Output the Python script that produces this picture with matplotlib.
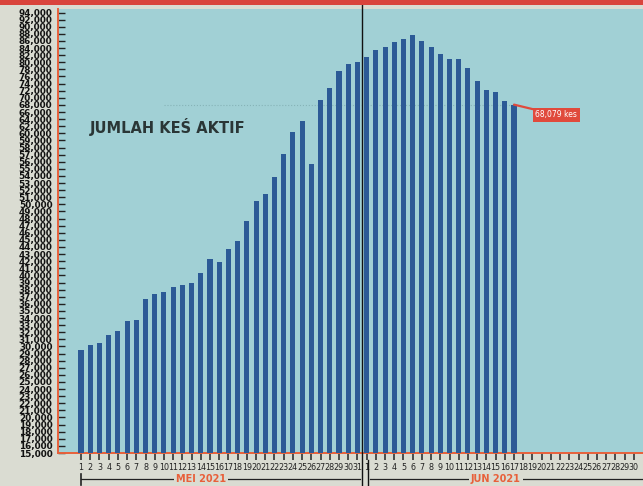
import matplotlib.pyplot as plt
import matplotlib.transforms as mtransforms
from matplotlib.patches import Rectangle
import numpy as np

# Jumlah kes aktif, 1 Mei - 17 Jun 2021
mei_cases = [29560, 30270, 30550, 31580, 32210, 33620, 33700, 36650, 37450, 37680,
             38300, 38660, 38860, 40270, 42240, 41900, 43690, 44860, 47680, 50490,
             51390, 53790, 57110, 60420, 63520, 55660, 69260, 72820, 77600, 79400,
             80120]
jun_cases = [81540, 83440, 84360, 85700, 86540, 87740, 85880, 84200, 82400, 80900,
             80900, 78280, 74700, 72260, 71600, 69080, 68079]
mei_days = list(range(1, 32))
jun_days = list(range(1, 31))
y_ticks = list(range(15000, 60001, 1000)) + list(range(62000, 94001, 2000))
last_label = "68,079 kes"
title = "JUMLAH KEŚ AKTIF"

paper = "#dadcd2"
plot_bg = "#a1d0d5"
bar_blue = "#2c5a96"
axis_red = "#e8603a"
label_red = "#e04a3c"


# the printed y axis is not linear: 1,000 steps up to 60,000 then 2,000 steps
def forward(v):
    v = np.asarray(v, dtype=float)
    return np.where(v <= 60000, (v - 15000) / 1000.0, 45 + (v - 60000) / 2000.0)


def inverse(p):
    p = np.asarray(p, dtype=float)
    return np.where(p <= 45, 15000 + 1000.0 * p, 60000 + 2000.0 * (p - 45))


fig = plt.figure(figsize=(6.43, 4.86), dpi=100, facecolor=paper)
ax = fig.add_axes([58 / 643, 33 / 486, 585 / 643, 444 / 486])
ax.set_facecolor(plot_bg)
ax.set_yscale("function", functions=(forward, inverse))

values = mei_cases + jun_cases
x = np.arange(len(values))
ax.bar(x, np.array(values) - 15000, bottom=15000, width=0.55, color=bar_blue, zorder=3)

ax.set_xlim(-2.5, 61.0)
ax.set_ylim(15000, 95000)

# y axis
ax.set_yticks(y_ticks)
ax.set_yticklabels([f"{v:,}" for v in y_ticks], fontsize=6.4, fontweight="bold", color="#111111")
ax.tick_params(axis="y", direction="in", length=5, width=1, color="#222222", pad=4)
ax.yaxis.set_minor_locator(plt.NullLocator())

# x axis: days of May then June
tick_pos = np.arange(len(mei_days) + len(jun_days))
ax.set_xticks(tick_pos)
ax.set_xticklabels([str(d) for d in mei_days + jun_days], fontsize=5.8,
                   family=["Liberation Sans Narrow", "DejaVu Sans"], color="#222222")
ax.tick_params(axis="x", direction="out", length=5, width=1.2, color="#333333", pad=2)

for side in ["top", "right"]:
    ax.spines[side].set_visible(False)
for side in ["left", "bottom"]:
    ax.spines[side].set_color(axis_red)
    ax.spines[side].set_linewidth(1.4)

# month divider
ax.axvline(30.5, ymin=-0.1, ymax=1.01, color="#111111", lw=1, clip_on=False, zorder=4)
ax.axvline(31.2, ymin=-0.1, ymax=-0.015, color="#111111", lw=1, clip_on=False)

# month brackets under the day numbers
trans = mtransforms.blended_transform_factory(ax.transData, ax.transAxes)
yb = -0.059
ax.plot([0, 30.3], [yb, yb], color="#222222", lw=0.9, transform=trans, clip_on=False)
ax.plot([0, 0], [yb - 0.012, yb + 0.012], color="#222222", lw=1.2, transform=trans, clip_on=False)
ax.plot([31.4, 61.5], [yb, yb], color="#222222", lw=0.9, transform=trans, clip_on=False)
ax.text(13.0, yb, "MEI 2021", transform=trans, ha="center", va="center", fontsize=7,
        fontweight="bold", color=axis_red, bbox=dict(facecolor=paper, edgecolor="none", pad=1.5))
ax.text(45.0, yb, "JUN 2021", transform=trans, ha="center", va="center", fontsize=7,
        fontweight="bold", color=axis_red, bbox=dict(facecolor=paper, edgecolor="none", pad=1.5))

# faint guide at the latest value
ax.hlines(jun_cases[-1], 9, 47, colors="#86b3b7", linestyles=":", lw=0.8, zorder=2)

# title inside the plot
ax.text(0.055, 0.734, title, transform=ax.transAxes, fontsize=10.5, fontweight="bold",
        color="#2a3636", ha="left", va="center")

# callout for the last bar
ax.annotate(last_label, xy=(x[-1], values[-1]), xytext=(51.6, 65200),
            fontsize=5.5, color="white", ha="center", va="center",
            bbox=dict(boxstyle="square,pad=0.35", facecolor=label_red, edgecolor="none"),
            arrowprops=dict(arrowstyle="-", color=label_red, lw=1.6, shrinkA=0, shrinkB=0),
            zorder=5)

# red strip along the top of the page
fig.patches.append(Rectangle((0, 1 - 5 / 486), 1, 5 / 486, transform=fig.transFigure,
                             facecolor="#d9443c", edgecolor="none"))

fig.savefig("out.png", dpi=100, facecolor=paper)
